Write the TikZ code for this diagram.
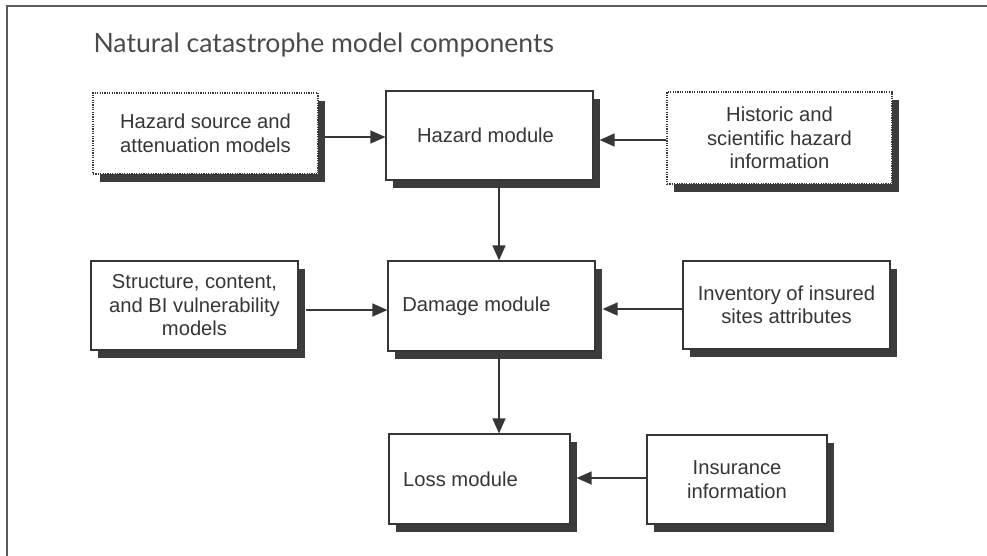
\documentclass[tikz,border=0pt]{standalone}
\usepackage{fontspec}
\setmainfont{Liberation Sans}
\newfontfamily\titlefont{Lato}
\usetikzlibrary{arrows.meta,shadows}
\definecolor{inkgray}{HTML}{363636}
\definecolor{shadowgray}{HTML}{3C3C3C}
\definecolor{framegray}{HTML}{5A5A5A}
\tikzset{
   modbox/.style={draw=inkgray, line width=1.2pt, fill=white, text=inkgray,
      inner sep=0pt, align=center, font=\fontsize{20.2}{23.5}\selectfont,
      drop shadow={shadow xshift=7pt, shadow yshift=-8pt, fill=shadowgray, opacity=1}},
   dotbox/.style={modbox, dash pattern=on 1.2pt off 1.2pt},
   flow/.style={draw=inkgray, line width=1.3pt, -{Triangle[length=15pt,width=13pt]}}
}
\begin{document}
\begin{tikzpicture}[x=1pt, y=-1pt]
   \useasboundingbox (0,0) rectangle (987,555);
   \begin{scope}
      \clip (0,0) rectangle (987,555);
      \draw[framegray, line width=2pt] (7,6) rectangle (1000,570);
   \end{scope}
   \node[anchor=base west, text=inkgray!90, font=\titlefont\fontsize{26.6}{30}\selectfont]
      (title) at (90,52.7) {Natural catastrophe model components};
   \def \Dotted {
      src/205.5/133.5/225/81/{Hazard source and\\attenuation models},
      hist/779.5/138/225/92/{Historic and\\scientific hazard\\information}}
   \def \Solid {
      haz/489.5/135.5/207/89/{Hazard module\hspace*{8pt}},
      vuln/194.5/305.5/207/89/{Structure, content,\\and BI vulnerability\\models},
      dmg/491.5/306/207/90/{Damage module\hspace*{30pt}},
      inv/786.5/305/207/88/{Inventory of insured\\sites attributes},
      loss/479.5/479/181/90/{Loss module\hspace*{38pt}},
      ins/737/479.5/180/89/{Insurance\\information}}
   \foreach \n / \x / \y / \w / \h / \t in \Dotted {
      \node[dotbox, minimum width=\w pt, minimum height=\h pt] (\n) at (\x, \y) {\t};
   }
   \foreach \n / \x / \y / \w / \h / \t in \Solid {
      \node[modbox, minimum width=\w pt, minimum height=\h pt] (\n) at (\x, \y) {\t};
   }
   % arrows leave or reach the shadow edge
   \coordinate (srcout) at ([xshift=6pt]src.east);
   \coordinate (hazin) at ([xshift=6pt]haz.east);
   \coordinate (vulnout) at ([xshift=7pt]vuln.east);
   \coordinate (dmgin) at ([xshift=7pt]dmg.east);
   \coordinate (lossin) at ([xshift=6pt]loss.east);
   \coordinate (hazout) at ([xshift=9.5pt]haz.south);
   \coordinate (dmgout) at ([xshift=7.5pt]dmg.south);
   \draw[flow] ([yshift=-1.5pt]srcout |- haz.west) -- ([yshift=-1.5pt]haz.west);
   \draw[flow] ([yshift=-2pt]hist.west) -- ([yshift=-2pt]hazin |- hist.west);
   \draw[flow] ([yshift=-4pt]vulnout |- dmg.west) -- ([yshift=-4pt]dmg.west);
   \draw[flow] ([yshift=-4pt]inv.west) -- ([yshift=-4pt]dmgin |- inv.west);
   \draw[flow] ([yshift=1.5pt]ins.west) -- ([yshift=1.5pt]lossin |- ins.west);
   \draw[flow] (hazout) -- (hazout |- dmg.north);
   \draw[flow] (dmgout) -- (dmgout |- loss.north);
\end{tikzpicture}
\end{document}
